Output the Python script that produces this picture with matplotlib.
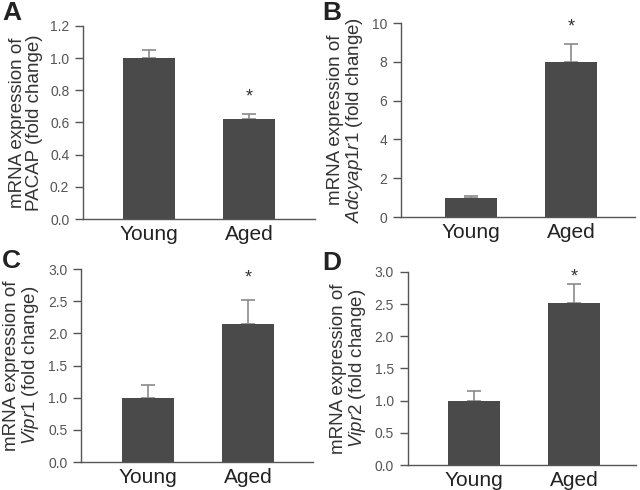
import matplotlib.pyplot as plt

groups = ['Young', 'Aged']

pacap = [1.0, 0.62]
pacap_err = [0.05, 0.03]

adcyap1r1 = [1.0, 8.0]
adcyap1r1_err = [0.08, 0.9]

vipr1 = [1.0, 2.15]
vipr1_err = [0.2, 0.37]

vipr2 = [1.0, 2.52]
vipr2_err = [0.15, 0.29]

# star height for each panel (value where the asterisk sits)
star_y = [0.76, 9.8, 2.86, 2.92]

plt.rcParams['font.family'] = ['Liberation Sans', 'DejaVu Sans']
plt.rcParams['mathtext.fontset'] = 'custom'
plt.rcParams['mathtext.it'] = 'Liberation Sans:italic'
plt.rcParams['mathtext.rm'] = 'Liberation Sans'

fig = plt.figure(figsize=(6.4, 4.9), dpi=100)

panels = [
    ('A', [0.130, 0.553, 0.362, 0.394], pacap, pacap_err, 1.2, 0.2,
     'mRNA expression of\nPACAP (fold change)', (-0.66, 1.66), '{:.1f}'),
    ('B', [0.627, 0.557, 0.365, 0.396], adcyap1r1, adcyap1r1_err, 10, 2,
     'mRNA expression of\n$\\it{Adcyap1r1}$ (fold change)', (-0.70, 1.64), '{:.0f}'),
    ('C', [0.127, 0.057, 0.362, 0.394], vipr1, vipr1_err, 3.0, 0.5,
     'mRNA expression of\n$\\it{Vipr1}$ (fold change)', (-0.67, 1.65), '{:.1f}'),
    ('D', [0.6375, 0.051, 0.356, 0.394], vipr2, vipr2_err, 3.0, 0.5,
     'mRNA expression of\n$\\it{Vipr2}$ (fold change)', (-0.66, 1.62), '{:.1f}'),
]

letter_pos = [(0.003, 0.997), (0.503, 0.997), (0.003, 0.492), (0.503, 0.487)]

for i, (letter, rect, vals, errs, ymax, step, ylab, xl, fmt) in enumerate(panels):
    ax = fig.add_axes(rect)
    x = [0, 1]
    ax.bar(x, vals, width=0.52, color='#4a4a4a', zorder=2)
    ax.errorbar(x, vals, yerr=[[0, 0], errs], fmt='none', ecolor='#8a8a8a',
                elinewidth=1.2, capsize=5, capthick=1.2, zorder=1)
    ax.text(1, star_y[i], '*', ha='center', va='center', fontsize=13, color='#333333')
    ax.set_xlim(*xl)
    ax.set_ylim(0, ymax)
    ticks = [k * step for k in range(int(round(ymax / step)) + 1)]
    ax.set_yticks(ticks)
    ax.set_yticklabels([fmt.format(t) for t in ticks])
    ax.set_xticks(x)
    ax.set_xticklabels(groups, fontsize=15, color='#222222')
    ax.tick_params(axis='x', length=0, pad=4)
    ax.tick_params(axis='y', length=6, width=1, color='#555555', labelsize=10,
                   labelcolor='#555555', pad=4)
    for s in ['top', 'right']:
        ax.spines[s].set_visible(False)
    for s in ['left', 'bottom']:
        ax.spines[s].set_color('#555555')
        ax.spines[s].set_linewidth(1)
    ax.set_ylabel(ylab, fontsize=13.5, color='#333333', linespacing=1.0, labelpad=5)
    fig.text(letter_pos[i][0], letter_pos[i][1], letter, fontsize=19,
             fontweight='bold', va='top', ha='left', color='#222222')

fig.savefig('out.png', dpi=100)
